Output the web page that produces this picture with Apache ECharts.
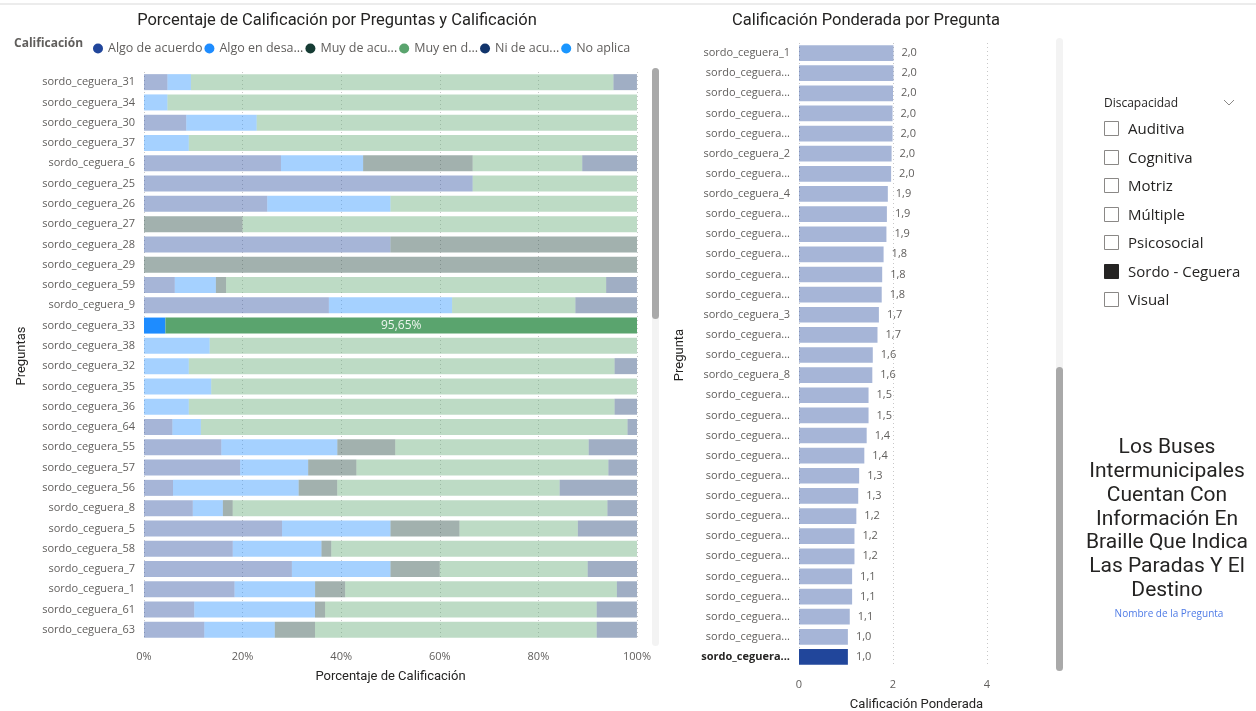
<!DOCTYPE html>
<html>
<head>
<meta charset="utf-8">
<script src="https://cdn.jsdelivr.net/npm/echarts@6/dist/echarts.min.js"></script>
<style>
  html, body { margin: 0; padding: 0; background: #fff; }
  #chart { width: 1256px; height: 711px; }
</style>
</head>
<body>
<div id="chart"></div>
<script>
// left chart: % of answers per question, stacked
const preguntas = [
  "sordo_ceguera_31", "sordo_ceguera_34", "sordo_ceguera_30", "sordo_ceguera_37",
  "sordo_ceguera_6", "sordo_ceguera_25", "sordo_ceguera_26", "sordo_ceguera_27",
  "sordo_ceguera_28", "sordo_ceguera_29", "sordo_ceguera_59", "sordo_ceguera_9",
  "sordo_ceguera_33", "sordo_ceguera_38", "sordo_ceguera_32", "sordo_ceguera_35",
  "sordo_ceguera_36", "sordo_ceguera_64", "sordo_ceguera_55", "sordo_ceguera_57",
  "sordo_ceguera_56", "sordo_ceguera_8", "sordo_ceguera_5", "sordo_ceguera_58",
  "sordo_ceguera_7", "sordo_ceguera_1", "sordo_ceguera_61", "sordo_ceguera_63"
];
const algoDeAcuerdo = [4.76, 0, 8.57, 0, 27.78, 66.67, 25, 0, 50, 0, 6.25, 37.5, 0, 0,
  0, 0, 0, 5.77, 15.69, 19.5, 5.88, 9.9, 28, 18, 30, 18.37, 10.2, 12.24];
const algoEnDesacuerdo = [4.76, 4.76, 14.29, 9.09, 16.67, 0, 25, 0, 0, 0, 8.33, 25, 4.35, 13.33,
  9.09, 13.64, 9.09, 5.77, 23.53, 13.8, 25.49, 6.1, 22, 18, 20, 16.33, 24.49, 14.29];
const muyDeAcuerdo = [0, 0, 0, 0, 22.22, 0, 0, 20, 50, 100, 2.08, 0, 0, 0,
  0, 0, 0, 0, 11.76, 9.8, 7.84, 2, 14, 2, 10, 6.12, 2.04, 8.16];
const muyEnDesacuerdo = [85.71, 95.24, 77.14, 90.91, 22.22, 33.33, 50, 80, 0, 0, 77.08, 25, 95.65, 86.67,
  86.36, 86.36, 86.36, 86.54, 39.22, 51.1, 45.1, 76, 24, 62, 30, 55.1, 55.1, 57.14];
const niDeAcuerdo = [4.76, 0, 0, 0, 11.11, 0, 0, 0, 0, 0, 6.25, 12.5, 0, 0,
  4.55, 0, 4.55, 1.92, 9.8, 5.8, 15.69, 6, 12, 0, 10, 4.08, 8.16, 8.16];
const noAplica = [0, 0, 0, 0, 0, 0, 0, 0, 0, 0, 0, 0, 0, 0,
  0, 0, 0, 0, 0, 0, 0, 0, 0, 0, 0, 0, 0, 0];
const filaSeleccionada = 12; // sordo_ceguera_33

// right chart: weighted score per question
const preguntasPond = [
  "sordo_ceguera_1", "sordo_ceguera...", "sordo_ceguera...", "sordo_ceguera...",
  "sordo_ceguera...", "sordo_ceguera_2", "sordo_ceguera...", "sordo_ceguera_4",
  "sordo_ceguera...", "sordo_ceguera...", "sordo_ceguera...", "sordo_ceguera...",
  "sordo_ceguera...", "sordo_ceguera_3", "sordo_ceguera...", "sordo_ceguera...",
  "sordo_ceguera_8", "sordo_ceguera...", "sordo_ceguera...", "sordo_ceguera...",
  "sordo_ceguera...", "sordo_ceguera...", "sordo_ceguera...", "sordo_ceguera...",
  "sordo_ceguera...", "sordo_ceguera...", "sordo_ceguera...", "sordo_ceguera...",
  "sordo_ceguera...", "sordo_ceguera...", "sordo_ceguera..."
];
const calificacionPond = [2.01, 2.01, 2.0, 1.99, 1.99, 1.97, 1.96, 1.89, 1.87, 1.86,
  1.8, 1.77, 1.76, 1.7, 1.67, 1.57, 1.56, 1.48, 1.48, 1.44,
  1.39, 1.28, 1.26, 1.22, 1.18, 1.18, 1.13, 1.13, 1.08, 1.04, 1.04];

const discapacidades = ["Auditiva", "Cognitiva", "Motriz", "Múltiple", "Psicosocial", "Sordo - Ceguera", "Visual"];
const discapacidadSel = "Sordo - Ceguera";
const textoPregunta = ["Los Buses", "Intermunicipales", "Cuentan Con", "Información En",
  "Braille Que Indica", "Las Paradas Y El", "Destino"];

const FONT = "'Segoe UI', 'Open Sans', sans-serif";
const TITLE_FONT = "Roboto, sans-serif";
const GRAY = "#605e5c";
const DARK = "#252423";

const legendShort = {
  "Algo de acuerdo": "Algo de acuerdo",
  "Algo en desacuerdo": "Algo en desa...",
  "Muy de acuerdo": "Muy de acu...",
  "Muy en desacuerdo": "Muy en d...",
  "Ni de acuerdo ni en desacuerdo": "Ni de acu...",
  "No aplica": "No aplica"
};

const stackSeries = [
  ["Algo de acuerdo", algoDeAcuerdo, "#21469b"],
  ["Algo en desacuerdo", algoEnDesacuerdo, "#1e8cff"],
  ["Muy de acuerdo", muyDeAcuerdo, "#163c34"],
  ["Muy en desacuerdo", muyEnDesacuerdo, "#5aa46e"],
  ["Ni de acuerdo ni en desacuerdo", niDeAcuerdo, "#11346b"],
  ["No aplica", noAplica, "#1a96ff"]
].map(([name, values, color]) => ({
  name,
  type: "bar",
  stack: "total",
  xAxisIndex: 0,
  yAxisIndex: 0,
  barCategoryGap: "21%",
  itemStyle: { color },
  label: {
    show: false,
    color: "#eef5ef",
    fontSize: 12,
    fontFamily: FONT,
    formatter: (p) => p.value.toFixed(2).replace(".", ",") + "%"
  },
  data: values.map((v, i) => ({
    value: v,
    itemStyle: { opacity: i === filaSeleccionada ? 1 : 0.4 },
    label: { show: i === filaSeleccionada && v > 50 }
  }))
}));

const graphics = [
  { type: "line", shape: { x1: 0, y1: 4, x2: 1256, y2: 4 }, style: { stroke: "#ececec", lineWidth: 2 } },
  { type: "text", left: 14, top: 38, style: { text: "Calificación", font: "bold 12px " + FONT, fill: GRAY } },
  // scrollbars
  { type: "rect", shape: { x: 652, y: 68, width: 7, height: 578, r: 3.5 }, style: { fill: "#f3f3f3" } },
  { type: "rect", shape: { x: 652, y: 68, width: 7, height: 251, r: 3.5 }, style: { fill: "#a9a9a9" } },
  { type: "rect", shape: { x: 1056, y: 38, width: 7, height: 633, r: 3.5 }, style: { fill: "#f3f3f3" } },
  { type: "rect", shape: { x: 1056, y: 367, width: 7, height: 304, r: 3.5 }, style: { fill: "#a9a9a9" } },
  // slicer
  { type: "text", x: 1104, y: 104, style: { text: "Discapacidad", font: "12px " + FONT, fill: DARK, verticalAlign: "middle" } },
  { type: "polyline", shape: { points: [[1224, 100], [1229, 105], [1234, 100]] }, style: { stroke: "#8a8886", lineWidth: 1, fill: null } }
];
const slicerY = [129, 158, 186, 215, 243, 272, 300];
discapacidades.forEach((d, i) => {
  const sel = d === discapacidadSel;
  graphics.push({
    type: "rect",
    shape: { x: 1104.5, y: slicerY[i] - 7.5, width: 14, height: 14 },
    style: { fill: sel ? DARK : "#fff", stroke: sel ? DARK : "#8a8886", lineWidth: 1 }
  });
  graphics.push({
    type: "text", x: 1128, y: slicerY[i] + 1,
    style: { text: d, font: "15px " + FONT, fill: DARK, verticalAlign: "middle" }
  });
});
textoPregunta.forEach((t, i) => {
  graphics.push({
    type: "text", x: 1167, y: 448 + i * 23.8,
    style: { text: t, font: "21px " + TITLE_FONT, fill: DARK, align: "center", verticalAlign: "middle" }
  });
});
graphics.push({
  type: "text", x: 1169, y: 614,
  style: { text: "Nombre de la Pregunta", font: "10px " + FONT, fill: "#4f7be6", align: "center", verticalAlign: "middle" }
});

const chart = echarts.init(document.getElementById("chart"));
chart.setOption({
  animation: false,
  textStyle: { fontFamily: FONT },
  title: [
    {
      text: "Porcentaje de Calificación por Preguntas y Calificación",
      left: 332, top: 7, textAlign: "center",
      textStyle: { fontFamily: TITLE_FONT, fontSize: 16.5, fontWeight: "normal", color: DARK }
    },
    {
      text: "Calificación Ponderada por Pregunta",
      left: 861, top: 7, textAlign: "center",
      textStyle: { fontFamily: TITLE_FONT, fontSize: 16.5, fontWeight: "normal", color: DARK }
    }
  ],
  legend: {
    left: 88, top: 37,
    icon: "circle", itemWidth: 10, itemHeight: 10, itemGap: 2,
    textStyle: { color: GRAY, fontSize: 12.5, fontFamily: FONT },
    formatter: (n) => legendShort[n],
    data: stackSeries.map((s) => s.name)
  },
  grid: [
    { left: 144, top: 72, width: 493, height: 568, outerBoundsMode: "none" },
    { left: 799, top: 43, width: 235, height: 624, outerBoundsMode: "none" }
  ],
  xAxis: [
    {
      gridIndex: 0, type: "value", min: 0, max: 100, interval: 20,
      axisLine: { show: false }, axisTick: { show: false },
      axisLabel: { formatter: "{value}%", color: GRAY, fontSize: 11, margin: 11 },
      splitLine: { lineStyle: { type: [1, 3], color: "#c8c8c8" } },
      name: "Porcentaje de Calificación", nameLocation: "middle", nameGap: 30,
      nameTextStyle: { fontSize: 13, color: DARK, fontFamily: TITLE_FONT }
    },
    {
      gridIndex: 1, type: "value", min: 0, max: 5, interval: 2,
      axisLine: { show: false }, axisTick: { show: false },
      axisLabel: { color: GRAY, fontSize: 11, margin: 12, showMaxLabel: false },
      splitLine: { showMaxLine: false, lineStyle: { type: [1, 3], color: "#c8c8c8" } },
      name: "Calificación Ponderada", nameLocation: "middle", nameGap: 31,
      nameTextStyle: { fontSize: 13, color: DARK, fontFamily: TITLE_FONT }
    }
  ],
  yAxis: [
    {
      gridIndex: 0, type: "category", inverse: true, data: preguntas,
      axisLine: { show: false }, axisTick: { show: false },
      axisLabel: { color: GRAY, fontSize: 11, margin: 9 },
      name: "Preguntas", nameLocation: "middle", nameGap: 116, nameRotate: 90,
      nameTextStyle: { fontSize: 13, color: DARK, fontFamily: TITLE_FONT }
    },
    {
      gridIndex: 1, type: "category", inverse: true,
      data: preguntasPond.map((p, i) => i === preguntasPond.length - 1
        ? { value: p, textStyle: { fontWeight: "bold", color: DARK } }
        : p),
      axisLine: { show: false }, axisTick: { show: false },
      axisLabel: { color: GRAY, fontSize: 11, margin: 9 },
      name: "Pregunta", nameLocation: "middle", nameGap: 113, nameRotate: 90,
      nameTextStyle: { fontSize: 13, color: DARK, fontFamily: TITLE_FONT }
    }
  ],
  series: [
    ...stackSeries,
    {
      name: "Calificación Ponderada",
      type: "bar",
      xAxisIndex: 1, yAxisIndex: 1,
      barCategoryGap: "22%",
      itemStyle: { color: "#21469b" },
      label: {
        show: true, position: "right", distance: 8,
        color: GRAY, fontSize: 11, opacity: 1,
        formatter: (p) => p.value.toFixed(1).replace(".", ",")
      },
      data: calificacionPond.map((v, i) => ({
        value: v,
        itemStyle: { opacity: i === calificacionPond.length - 1 ? 1 : 0.4 },
        label: { opacity: 1 }
      }))
    }
  ],
  graphic: graphics
});
</script>
</body>
</html>
